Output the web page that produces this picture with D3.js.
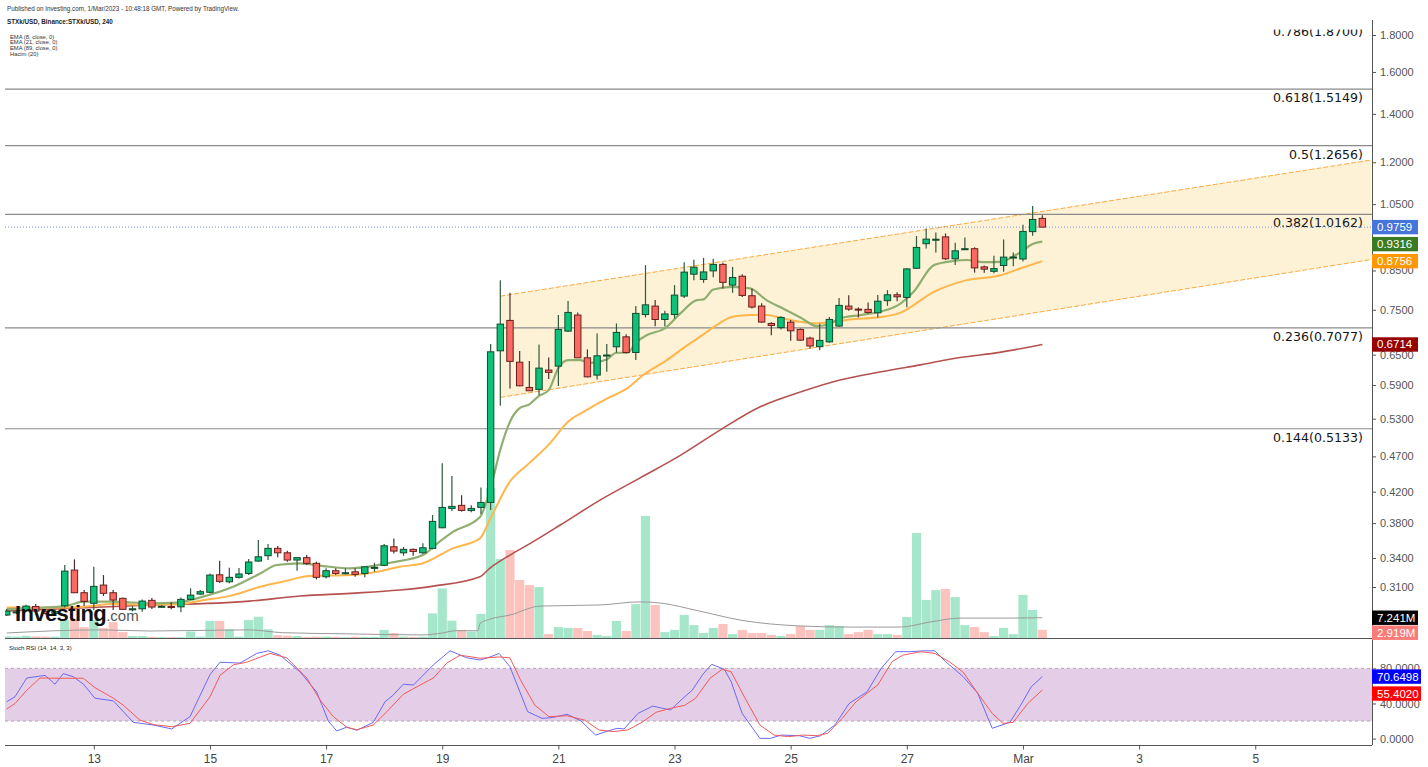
<!DOCTYPE html>
<html><head><meta charset="utf-8">
<script src="https://cdn.jsdelivr.net/npm/d3@7"></script>
<style>body{margin:0;background:#fff;overflow:hidden}svg{display:block}</style>
</head><body><svg id="c" width="1428" height="767"></svg>
<script>
// ---------------- DATA ----------------
const firstCandle = Date.UTC(2023, 1, 11, 12); // 4h candles
const candleHours = 4;
const open  = [.2835,.2862,.2874,.2913,.2871,.2850,.2920,.3272,.3044,.2943,.3119,.3044,.2990,.2887,.2892,.2971,.2912,.2913,.2910,.2980,.3031,.3048,.3223,.3152,.3197,.3237,.3367,.3425,.3506,.3457,.3378,.3404,.3343,.3203,.3265,.3242,.3254,.3237,.3298,.3322,.3524,.3457,.3495,.3457,.3506,.3744,.3982,.4021,.3955,.3995,.4059,.6580,.7249,.6346,.5855,.5819,.6188,.6267,.7006,.7374,.6435,.6090,.6485,.6665,.6880,.6545,.7386,.7588,.7271,.7386,.7834,.8400,.8260,.8489,.8665,.8112,.8345,.7843,.7588,.7180,.7085,.7209,.7044,.6852,.6667,.6771,.7120,.7588,.7515,.7508,.7427,.7720,.7866,.7800,.8560,.9256,.9383,.9460,.8822,.9100,.9110,.8597,.8476,.8635,.8866,.8816,.9620,1.0033];
const high  = [.2890,.2880,.2930,.2936,.2890,.2885,.3325,.3385,.3070,.3306,.3220,.3070,.2999,.2917,.2980,.2993,.2926,.2953,.2999,.3087,.3070,.3237,.3370,.3296,.3293,.3389,.3600,.3555,.3532,.3479,.3404,.3432,.3360,.3290,.3290,.3290,.3290,.3313,.3349,.3555,.3619,.3521,.3506,.3563,.3899,.4597,.4414,.4153,.4021,.4258,.6722,.8242,.7916,.6574,.6368,.6716,.6443,.7374,.7709,.7436,.6609,.6954,.6725,.7180,.6938,.7588,.8646,.7734,.7474,.8112,.8728,.8794,.8849,.8822,.8710,.8597,.8400,.8027,.7656,.7207,.7347,.7256,.7066,.6880,.7170,.7331,.7788,.7855,.7556,.7676,.7858,.7984,.7933,.8560,.9483,.9719,.9590,.9560,.9282,.9443,.9149,.8636,.8910,.9380,.9002,.9830,1.0437,1.0133];
const low   = [.2826,.2845,.2862,.2862,.2840,.2838,.2904,.3041,.2917,.2880,.3012,.2880,.2880,.2868,.2865,.2890,.2903,.2887,.2860,.2974,.3021,.3038,.3139,.3137,.3186,.3220,.3360,.3378,.3407,.3360,.3265,.3325,.3176,.3186,.3220,.3227,.3203,.3197,.3255,.3313,.3450,.3425,.3425,.3446,.3495,.3737,.3949,.3942,.3933,.3911,.3961,.5523,.5837,.5875,.5788,.5714,.6013,.5883,.6984,.6429,.6045,.6007,.6154,.6539,.6530,.6388,.7317,.7117,.7110,.7293,.7784,.8242,.8172,.8317,.8027,.7916,.7808,.7532,.7194,.6915,.7040,.6793,.6793,.6623,.6592,.6750,.7103,.7474,.7319,.7413,.7318,.7594,.7705,.7557,.8540,.9114,.8999,.8785,.8646,.9092,.8441,.8440,.8422,.8466,.8613,.8745,.9497,.9752];
const close = [.2871,.2864,.2917,.2871,.2850,.2868,.3261,.3044,.2961,.3106,.3038,.2974,.2887,.2892,.2964,.2908,.2915,.2910,.2980,.3021,.3054,.3220,.3156,.3197,.3231,.3357,.3413,.3506,.3457,.3378,.3404,.3343,.3197,.3265,.3237,.3244,.3227,.3306,.3300,.3535,.3476,.3495,.3472,.3513,.3821,.3995,.4008,.3957,.3982,.4059,.6559,.7164,.6362,.5886,.5793,.6227,.6143,.7044,.7436,.6435,.6057,.6476,.6492,.6977,.6545,.7413,.7618,.7271,.7400,.7858,.8455,.8589,.8460,.8665,.8184,.8312,.7850,.7564,.7211,.7134,.7318,.7013,.6808,.6682,.6802,.7272,.7605,.7515,.7505,.7436,.7707,.7866,.7816,.8542,.9147,.9392,.9390,.8822,.9049,.9110,.8570,.8535,.8550,.8869,.8872,.9626,1.0001,.9759];
// volume in millions
const volume = [0.6,0.5,0.8,0.6,0.5,0.5,6.4,6.4,3.9,6.4,3.6,5.7,2.1,0.7,0.7,0.4,0.3,0.3,0.3,2.3,0.5,6.1,6.1,3.1,0.5,6.4,7.6,3.1,1.0,0.8,0.7,0.3,0.5,0.5,0.4,0.3,0.5,0.4,0.4,2.9,1.8,0.5,0.4,0.5,8.8,17.7,6.2,2.9,2.3,8.6,53.5,28.2,31.4,20.7,18.9,18.2,1.4,3.9,3.6,3.6,2.5,1.1,0.7,6.1,2.5,12.1,43.6,11.8,2.1,2.9,8.2,4.6,1.8,3.6,5.0,1.4,2.9,1.8,1.8,1.1,0.7,1.4,4.3,2.9,2.9,4.6,4.3,1.4,2.1,2.9,1.4,1.4,1.1,7.5,37.5,13.6,17.1,17.5,14.6,4.6,3.9,2.1,0.7,3.6,1.4,15.4,10.0,2.919];
// line samples: [candle index (time), value]
const ema8 = [[0,.2889],[6,.2917],[8,.2958],[11,.2958],[14.8,.2943],[17.6,.2949],[20,.2999],[23.4,.3102],[26.2,.3237],[27.9,.3325],[30.3,.3343],[32.7,.3314],[35.5,.3290],[37.8,.3314],[39.6,.3349],[43,.3432],[44.5,.3563],[46.1,.3695],[48.9,.3874],[50,.4250],[51,.4800],[52,.5250],[53,.5480],[54,.5547],[55,.5700],[56,.5806],[57,.6228],[58,.6388],[59.2,.6388],[60.3,.6333],[62,.6402],[63,.6539],[64.1,.6539],[65.1,.6771],[66.1,.6913],[68,.7069],[69.6,.7413],[71.3,.7734],[72,.7752],[73,.8000],[75,.8068],[76.8,.8027],[78.5,.7734],[80.2,.7530],[82,.7318],[83.7,.7120],[84.7,.7143],[86.1,.7295],[88.2,.7374],[90.2,.7452],[92.3,.7642],[93.7,.7941],[95.8,.8646],[97.8,.8760],[99.2,.8788],[100.9,.8728],[102.6,.8737],[104.7,.9002],[106,.9246],[107,.9316]];
const ema21 = [[0,.2904],[6,.2904],[8,.2911],[11,.2936],[15,.2930],[18,.2936],[20,.2967],[23.4,.3021],[26.2,.3102],[28.5,.3152],[31.3,.3210],[35.5,.3220],[38.3,.3254],[40.6,.3306],[43,.3343],[46.1,.3506],[48.9,.3619],[49.9,.3837],[52,.4340],[54,.4600],[56,.4880],[58,.5250],[59.9,.5447],[62,.5650],[64.1,.5837],[65.8,.6097],[68.2,.6388],[70.3,.6694],[72.1,.6950],[73.2,.7120],[75,.7332],[76.8,.7374],[78.5,.7374],[80.2,.7295],[82,.7216],[83.7,.7180],[85.4,.7216],[87.1,.7272],[89.9,.7318],[92.3,.7426],[95.8,.7941],[99.2,.8242],[102.6,.8366],[104.7,.8553],[107,.8756]];
const ema89 = [[0,.2871],[13,.2920],[25.1,.2964],[30.3,.3012],[35.5,.3038],[40.6,.3070],[44.1,.3109],[48.9,.3203],[49.9,.3290],[52,.3432],[54.1,.3562],[57.2,.3777],[61.3,.4089],[65.4,.4386],[69.6,.4716],[73.7,.5111],[77.8,.5500],[82,.5769],[86.1,.5994],[90.2,.6149],[94.4,.6292],[98.5,.6440],[102.6,.6548],[107,.6714]];
const volMA = [[0,1.8],[9.6,2.9],[14.8,2.5],[25.1,2.9],[28.5,1.9],[35,1.5],[43,1.1],[45,1.8],[46.4,2.6],[48.7,2.6],[48.9,5.2],[49.9,6.7],[52,8.2],[55.1,11.4],[61.3,11.8],[65.4,12.9],[67.5,12.5],[71.6,9.6],[75.8,6.4],[82,4.3],[87.1,3.9],[92.3,3.9],[95.4,5.7],[98.5,7.1],[102.6,7.1],[107,7.241]];
const stochK = [[0,42],[0.86,47.7],[2.07,69],[3.96,72],[4.99,62],[5.85,74],[6.88,70.5],[7.92,62],[9.12,46],[11.02,43],[13.08,18.5],[15.15,15.5],[17.05,11],[18.94,25],[21.01,73],[22.04,87],[24.11,86],[25.83,97],[27.03,100],[28.24,95],[30.31,76],[32.03,53],[33.23,20],[34.1,8.7],[35.13,13],[36.17,9.5],[37.88,18.5],[39.09,42],[39.95,49.7],[40.98,62],[42.02,61],[44.08,84],[45.81,100],[47.53,92],[48.91,89.5],[49.94,93],[50.87,97],[51.99,82],[53.83,30.6],[55.32,23],[56.41,24],[57.9,27.7],[59.35,20],[60.84,4],[61.93,8],[63.06,11.7],[63.79,11],[65.24,28.8],[66.75,37],[68.6,32.6],[69.68,44],[70.82,55],[71.91,73],[72.84,84.6],[74.13,79],[74.85,65],[75.98,28.8],[77.82,0.3],[78.93,0.3],[80.01,4],[81.88,3.3],[82.99,0.3],[84.1,3.3],[85.57,15.5],[87.04,40],[88.9,53.4],[90.35,80],[91.85,99],[93.32,99],[94.79,100],[95.91,100],[97.01,87.6],[98.83,70.5],[100.33,51.6],[101.82,11.7],[103.66,18.6],[104.76,38],[105.85,59],[107,70.6498]];
const stochD = [[0,33.7],[0.86,40],[2.07,55],[3.44,69],[5.51,68.7],[7.92,68.7],[9.12,58],[11.02,46],[12.05,38],[13.77,21],[15.15,16],[17.05,13.5],[18.94,17.4],[21.01,47.7],[22.04,72],[23.42,84],[24.8,87],[27.21,97],[28.93,92],[31,69],[32.38,44],[33.75,25],[35.13,13],[36.17,10],[37.88,15.5],[39.27,30.6],[40.98,50.5],[42.71,61],[44.08,69],[45.47,86],[46.84,95],[48.91,91.5],[50.87,93],[51.99,92],[53.09,66.7],[54.57,38],[56.04,25],[57.9,26],[59.72,21],[61.21,9.8],[62.65,8],[64.16,9.8],[65.64,18.6],[67.1,30],[68.6,34.5],[70.07,38],[71.18,46],[72.66,68.7],[73.92,79],[74.85,76],[76.29,46],[77.82,15.5],[79.29,4],[80.78,2.2],[82.25,4],[83.73,3.3],[84.83,6],[86.32,23],[87.76,42],[89.99,61],[91.48,87.6],[92.58,95],[94.42,99],[95.91,97],[97.38,87.6],[98.83,75.5],[100.33,51.6],[101.82,28.8],[102.92,17.4],[103.99,18.6],[105.5,40],[107,55.402]];
// Fibonacci retracement levels
const fibRatios = ["0.786","0.618","0.5","0.382","0.236","0.144"];
const fibPrices = [1.8700,1.5149,1.2656,1.0162,0.7077,0.5133];
// parallel channel: [candle index, price]
const channelUpper = [[51,0.7832],[141,1.2086]];
const channelLower = [[51,0.5672],[141,0.8803]];
// axes
const priceTicks = [1.8,1.6,1.4,1.2,1.05,0.85,0.75,0.65,0.59,0.53,0.47,0.42,0.38,0.34,0.31];
const rsiTicks = [80,40,0];
const xTickDates = ["2023-02-13","2023-02-15","2023-02-17","2023-02-19","2023-02-21","2023-02-23","2023-02-25","2023-02-27","2023-03-01","2023-03-03","2023-03-05"];
const xTickLabels = ["13","15","17","19","21","23","25","27","Mar","3","5"];
const lastPrice = 0.9759;
const lastEma = [0.9316, 0.8756, 0.6714];
const lastVolMA = 7.241, lastVol = 2.919;
const lastK = 70.6498, lastD = 55.4020;
const headerLines = ["Published on Investing.com, 1/Mar/2023 - 10:48:18 GMT, Powered by TradingView.","STXk/USD, Binance:STXk/USD, 240"];
const legendLines = ["EMA (8, close, 0)","EMA (21, close, 0)","EMA (89, close, 0)","Hacim (20)"];

// ---------------- CHART ----------------
const svg = d3.select("#c");
const L = 5, R = 1372;
const tOf = i => new Date(firstCandle + i * candleHours * 3600e3);
const x = d3.scaleUtc().domain([new Date(Date.UTC(2023,1,11,11,18)), new Date(Date.UTC(2023,2,7,0,15))]).range([L, R]);
const y = d3.scaleLog().domain([0.31, 1.8]).range([587, 35]);
const yVol = d3.scaleLinear().domain([0, 45]).range([638, 512]);
const yR = d3.scaleLinear().domain([0, 100]).range([738.6, 650.8]);
const N = close.length;
const idx = d3.range(N);

svg.append("defs").append("clipPath").attr("id","pc").append("rect").attr("x",L).attr("y",29.5).attr("width",R-L).attr("height",608.5);
svg.append("defs").append("clipPath").attr("id","rc").append("rect").attr("x",L).attr("y",640).attr("width",R-L).attr("height",105);
const pane = svg.append("g").attr("clip-path","url(#pc)");

// channel
const chPts = channelUpper.map(d=>[x(tOf(d[0])), y(d[1])]).concat(channelLower.slice().reverse().map(d=>[x(tOf(d[0])), y(d[1])]));
pane.append("path").attr("d", "M" + chPts.join("L") + "Z").attr("fill","#fdf1d3").attr("opacity",0.95);
[channelUpper, channelLower].forEach(c => pane.append("path")
  .attr("d", d3.line().x(d=>x(tOf(d[0]))).y(d=>y(d[1]))(c))
  .attr("stroke","#fba940").attr("stroke-width",1).attr("stroke-dasharray","5,2").attr("fill","none"));

// fib lines
fibPrices.forEach((p,k) => {
  pane.append("line").attr("x1",L).attr("x2",R).attr("y1",y(p)).attr("y2",y(p)).attr("stroke","#8a8a8a").attr("stroke-width",1.2);
  pane.append("text").attr("x",1363).attr("y",y(p)+13).attr("text-anchor","end")
    .attr("font-family","DejaVu Sans").attr("font-size",12.6).attr("fill","#151515")
    .text(`${fibRatios[k]}(${p.toFixed(4)})`);
});

// current price dotted line
pane.append("line").attr("x1",L).attr("x2",R).attr("y1",y(lastPrice)).attr("y2",y(lastPrice))
  .attr("stroke","#7d93d8").attr("stroke-width",1).attr("stroke-dasharray","1,2");

// volume
pane.selectAll("rect.v").data(idx).join("rect")
  .attr("x", i => x(tOf(i)) - 4.6).attr("width", 9.2)
  .attr("y", i => yVol(volume[i])).attr("height", i => 638 - yVol(volume[i]))
  .attr("fill", i => close[i] >= open[i] ? "#a6e7cb" : "#fcc2bd");
pane.append("path").attr("d", d3.line().x(d=>x(tOf(d[0]))).y(d=>yVol(d[1])).curve(d3.curveMonotoneX)(volMA))
  .attr("stroke","#9a9a9a").attr("stroke-width",1).attr("fill","none");

// EMAs
const lineP = d3.line().x(d=>x(tOf(d[0]))).y(d=>y(d[1])).curve(d3.curveMonotoneX);
pane.append("path").attr("d", lineP(ema89)).attr("stroke","#b5514f").attr("stroke-width",1.6).attr("fill","none");
pane.append("path").attr("d", lineP(ema21)).attr("stroke","#ffb64c").attr("stroke-width",2).attr("fill","none");
pane.append("path").attr("d", lineP(ema8)).attr("stroke","#8fae70").attr("stroke-width",2.2).attr("fill","none");

// candles
const cg = pane.append("g");
idx.forEach(i => {
  const cx = x(tOf(i)), up = close[i] >= open[i];
  cg.append("line").attr("x1",cx).attr("x2",cx).attr("y1",y(high[i])).attr("y2",y(low[i]))
    .attr("stroke", up ? "#2f5a3e" : "#4a3030").attr("stroke-width",1.2);
  const top = y(Math.max(open[i],close[i])), bot = y(Math.min(open[i],close[i]));
  cg.append("rect").attr("x",cx-3.2).attr("width",6.4).attr("y",top).attr("height",Math.max(1,bot-top))
    .attr("fill", up ? "#0cc27a" : "#fa6a63").attr("stroke", up ? "#124a2c" : "#6b1f1c").attr("stroke-width",1);
});

// logo
const logo = svg.append("text").attr("x",15).attr("y",621);
logo.append("tspan").attr("font-family","Liberation Sans, Arial").attr("font-weight","bold").attr("font-size",22).attr("letter-spacing",-0.6).attr("fill","#111").text("Investing");
logo.append("tspan").attr("font-family","Liberation Sans, Arial").attr("font-size",15).attr("fill","#555").text(".com");

// pane separators
svg.append("line").attr("x1",L).attr("x2",R).attr("y1",638.5).attr("y2",638.5).attr("stroke","#555").attr("stroke-width",1.2);
svg.append("line").attr("x1",L).attr("x2",R).attr("y1",745.5).attr("y2",745.5).attr("stroke","#555").attr("stroke-width",1.2);

// RSI pane
const rp = svg.append("g").attr("clip-path","url(#rc)");
rp.append("rect").attr("x",L).attr("width",R-L).attr("y",yR(80)).attr("height",yR(20)-yR(80)).attr("fill","#e4cde7");
[80,20].forEach(v => rp.append("line").attr("x1",L).attr("x2",R).attr("y1",yR(v)).attr("y2",yR(v))
  .attr("stroke","#b3a3b3").attr("stroke-width",1).attr("stroke-dasharray","3,3"));
const lineR = d3.line().x(d=>x(tOf(d[0]))).y(d=>yR(d[1]));
rp.append("path").attr("d", lineR(stochK)).attr("stroke","#6a6af5").attr("stroke-width",1).attr("fill","none");
rp.append("path").attr("d", lineR(stochD)).attr("stroke","#f25a5a").attr("stroke-width",1).attr("fill","none");
svg.append("text").attr("x",9).attr("y",650).attr("font-family","Liberation Sans, Arial").attr("font-size",6).attr("fill","#222").text("Stoch RSI (14, 14, 3, 3)");

// right axes
const ax = svg.append("g").attr("transform",`translate(${R},0)`)
  .call(d3.axisRight(y).tickValues(priceTicks).tickFormat(d3.format(".4f")).tickSize(4).tickPadding(4));
const axR = svg.append("g").attr("transform",`translate(${R},0)`)
  .call(d3.axisRight(yR).tickValues(rsiTicks).tickFormat(d3.format(".4f")).tickSize(4).tickPadding(4));
[ax, axR].forEach(a => {
  a.select(".domain").remove();
  a.selectAll("text").attr("font-family","Liberation Sans, Arial").attr("font-size",11).attr("fill","#555");
  a.selectAll("line").attr("stroke","#555");
});
svg.append("line").attr("x1",R+0.5).attr("x2",R+0.5).attr("y1",20).attr("y2",745).attr("stroke","#555").attr("stroke-width",1);

// bottom axis
const xa = svg.append("g").attr("transform","translate(0,745.5)")
  .call(d3.axisBottom(x).tickValues(xTickDates.map(s=>new Date(s+"T00:00:00Z"))).tickFormat((d,k)=>xTickLabels[k]).tickSize(4).tickPadding(5));
xa.select(".domain").remove();
xa.selectAll("text").attr("font-family","Liberation Sans, Arial").attr("font-size",12).attr("fill","#444");
xa.selectAll("line").attr("stroke","#555");

// value labels on axis
function labels(items, minGap) {
  let prev = -1e9;
  items.forEach(it => {
    let cy = Math.max(it.y, prev + minGap); prev = cy;
    svg.append("rect").attr("x",R).attr("y",cy-7.2).attr("width",it.w || 46).attr("height",14.4).attr("fill",it.bg);
    svg.append("text").attr("x",R+5).attr("y",cy+4).attr("font-family","Liberation Sans, Arial").attr("font-size",11.5).attr("fill","#fff").text(it.t);
  });
}
labels([{y:y(lastPrice),t:lastPrice.toFixed(4),bg:"#4574db"},{y:y(lastEma[0]),t:lastEma[0].toFixed(4),bg:"#3a7a22"},{y:y(lastEma[1]),t:lastEma[1].toFixed(4),bg:"#ff9800"}],17);
labels([{y:y(lastEma[2]),t:lastEma[2].toFixed(4),bg:"#960000"}],17);
labels([{y:yVol(lastVolMA),t:lastVolMA.toFixed(3)+"M",bg:"#000"},{y:yVol(lastVol),t:lastVol.toFixed(3)+"M",bg:"#fb7b78"}],15);
labels([{y:yR(lastK),t:lastK.toFixed(4),bg:"#0000ff",w:49},{y:yR(lastD),t:lastD.toFixed(4),bg:"#ff0000",w:49}],17);

// header
svg.append("text").attr("x",7).attr("y",11).attr("font-family","Liberation Sans, Arial").attr("font-size",6.3).attr("fill","#333").text(headerLines[0]);
svg.append("text").attr("x",7).attr("y",24).attr("font-family","Liberation Sans, Arial").attr("font-size",6.3).attr("font-weight","bold").attr("fill","#222").text(headerLines[1]);
legendLines.forEach((s,k) => svg.append("text").attr("x",10).attr("y",38.5+k*5.8).attr("font-family","Liberation Sans, Arial").attr("font-size",5.8).attr("fill","#333").text(s));
</script></body></html>
